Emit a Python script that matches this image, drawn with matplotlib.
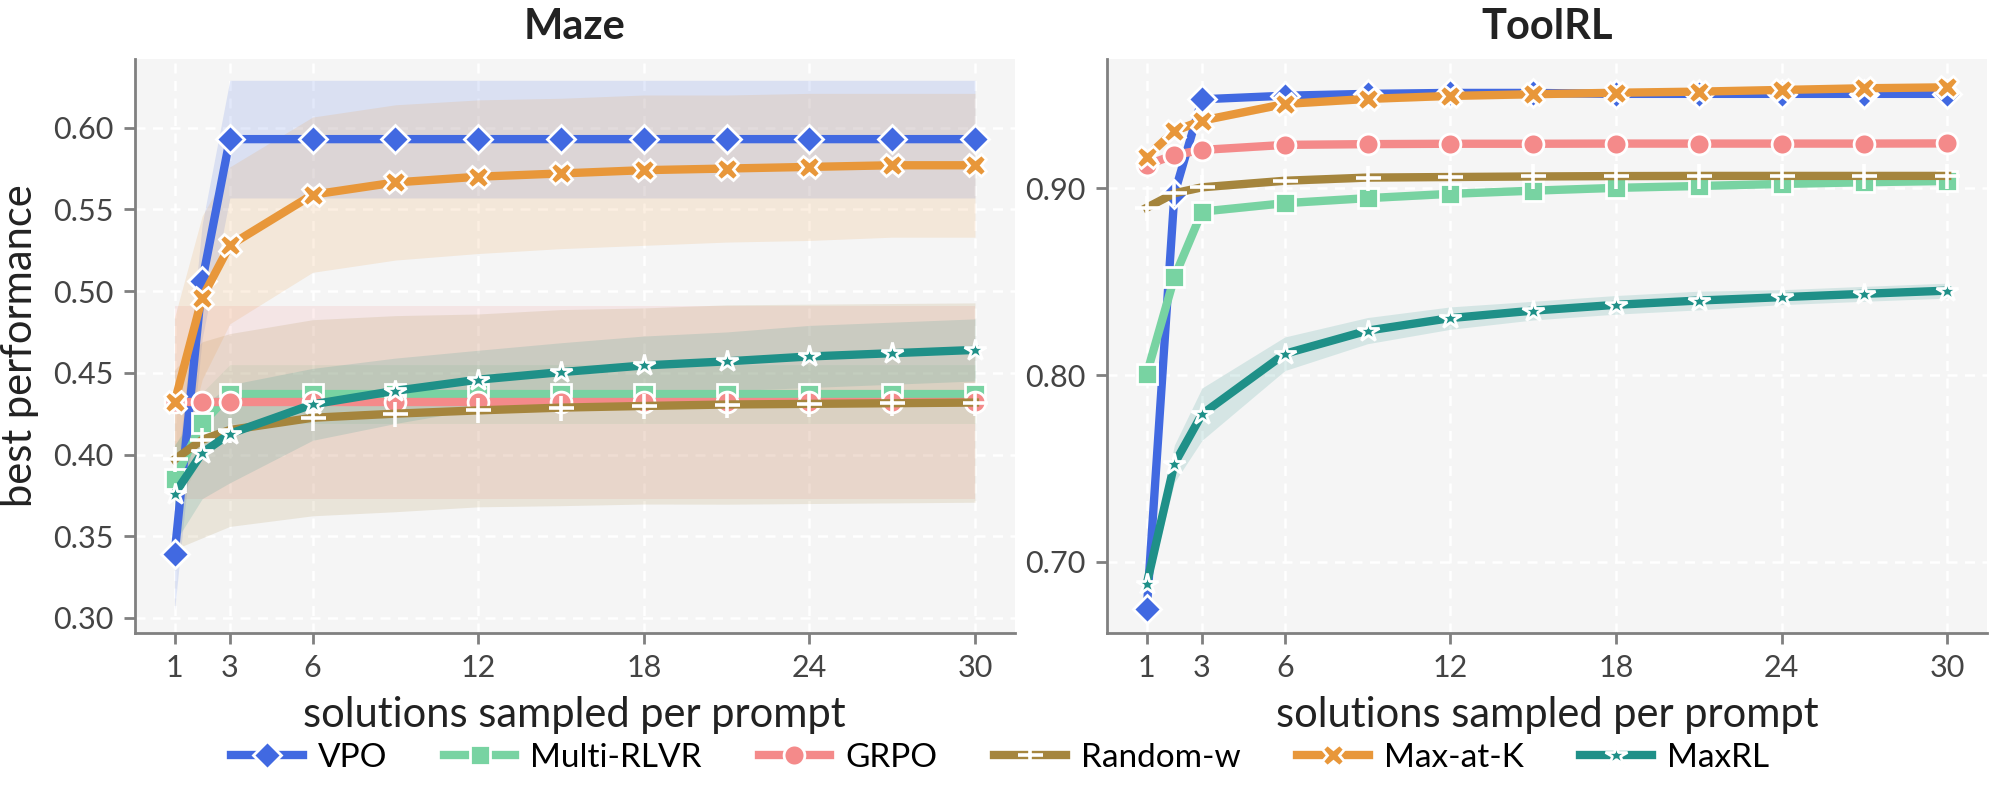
import numpy as np
import matplotlib
matplotlib.use("Agg")
import matplotlib.pyplot as plt

plt.rcParams['font.family'] = ['Lato', 'DejaVu Sans']

ks = [1, 2, 3, 6, 9, 12, 15, 18, 21, 24, 27, 30]
methods = ["VPO", "Multi-RLVR", "GRPO", "Random-w", "Max-at-K", "MaxRL"]
colors = ["#4169E1", "#78D3A2", "#F48A8A", "#A5853D", "#E8973A", "#1F9088"]
markers = ["D", "s", "o", "+", "X", "*"]
msizes = [7, 7, 7.5, 9, 8, 8]

# ---- Maze ----
maze_mean = {
    "VPO":        [0.339, 0.506, 0.593, 0.593, 0.593, 0.593, 0.593, 0.593, 0.593, 0.593, 0.593, 0.593],
    "Multi-RLVR": [0.385, 0.419, 0.437, 0.437, 0.437, 0.437, 0.437, 0.437, 0.437, 0.437, 0.437, 0.437],
    "GRPO":       [0.432, 0.432, 0.432, 0.432, 0.432, 0.432, 0.432, 0.432, 0.432, 0.432, 0.432, 0.432],
    "Random-w":   [0.397, 0.409, 0.415, 0.4225, 0.425, 0.427, 0.4287, 0.4297, 0.4306, 0.431, 0.4314, 0.4318],
    "Max-at-K":   [0.432, 0.496, 0.528, 0.559, 0.5665, 0.570, 0.572, 0.574, 0.575, 0.576, 0.577, 0.577],
    "MaxRL":      [0.376, 0.401, 0.4127, 0.4307, 0.439, 0.4458, 0.4504, 0.4545, 0.457, 0.460, 0.462, 0.464],
}
maze_std = {
    "VPO":        [0.034, 0.035, 0.036, 0.036, 0.036, 0.036, 0.036, 0.036, 0.036, 0.036, 0.036, 0.036],
    "Multi-RLVR": [0.020, 0.019, 0.018, 0.018, 0.018, 0.018, 0.018, 0.018, 0.018, 0.018, 0.018, 0.018],
    "GRPO":       [0.059, 0.059, 0.059, 0.059, 0.059, 0.059, 0.059, 0.059, 0.059, 0.059, 0.059, 0.059],
    "Random-w":   [0.055, 0.060, 0.059, 0.060, 0.060, 0.059, 0.060, 0.060, 0.061, 0.061, 0.061, 0.061],
    "Max-at-K":   [0.052, 0.050, 0.048, 0.0475, 0.0475, 0.047, 0.046, 0.046, 0.045, 0.045, 0.044, 0.044],
    "MaxRL":      [0.030, 0.028, 0.030, 0.022, 0.020, 0.018, 0.018, 0.018, 0.018, 0.019, 0.019, 0.019],
}

# ---- ToolRL ----
tool_mean = {
    "VPO":        [0.675, 0.897, 0.9476, 0.9495, 0.9505, 0.951, 0.951, 0.9505, 0.9505, 0.9505, 0.9505, 0.9505],
    "Multi-RLVR": [0.8007, 0.8524, 0.8875, 0.892, 0.8947, 0.897, 0.8987, 0.9002, 0.9012, 0.9023, 0.9032, 0.9039],
    "GRPO":       [0.9125, 0.9178, 0.9205, 0.9232, 0.9236, 0.9238, 0.9238, 0.9239, 0.9239, 0.9239, 0.9239, 0.924],
    "Random-w":   [0.8896, 0.8973, 0.9005, 0.904, 0.9057, 0.906, 0.9063, 0.9065, 0.9066, 0.9066, 0.9066, 0.9066],
    "Max-at-K":   [0.9169, 0.9306, 0.9362, 0.9451, 0.9478, 0.9494, 0.9503, 0.9511, 0.9517, 0.9526, 0.9535, 0.954],
    "MaxRL":      [0.6884, 0.7526, 0.7791, 0.8114, 0.8238, 0.8305, 0.8345, 0.8376, 0.8399, 0.8417, 0.8435, 0.8452],
}
tool_std = {
    "VPO":        [0.002, 0.002, 0.001, 0.001, 0.001, 0.001, 0.001, 0.001, 0.001, 0.001, 0.001, 0.001],
    "Multi-RLVR": [0.002, 0.002, 0.002, 0.002, 0.002, 0.002, 0.002, 0.002, 0.002, 0.002, 0.002, 0.002],
    "GRPO":       [0.002, 0.002, 0.002, 0.002, 0.002, 0.002, 0.002, 0.002, 0.002, 0.002, 0.002, 0.002],
    "Random-w":   [0.002, 0.002, 0.002, 0.002, 0.002, 0.002, 0.002, 0.002, 0.002, 0.002, 0.002, 0.002],
    "Max-at-K":   [0.002, 0.002, 0.002, 0.002, 0.002, 0.002, 0.002, 0.002, 0.002, 0.002, 0.002, 0.002],
    "MaxRL":      [0.005, 0.010, 0.014, 0.009, 0.007, 0.006, 0.005, 0.005, 0.005, 0.004, 0.004, 0.004],
}

xticks = [1, 3, 6, 12, 18, 24, 30]
maze_yticks = [0.30, 0.35, 0.40, 0.45, 0.50, 0.55, 0.60]
tool_yticks = [0.70, 0.80, 0.90]

fig = plt.figure(figsize=(10, 3.995), dpi=200)
ax1 = fig.add_axes([0.0673, 0.2078, 0.4402, 0.7187])
ax2 = fig.add_axes([0.5534, 0.2078, 0.4402, 0.7187])

def draw(ax, means, stds, title, yticks):
    ax.set_facecolor("#F5F5F5")
    ks_arr = np.array(ks)
    handles = []
    for m, c, mk, ms in zip(methods, colors, markers, msizes):
        mu = np.array(means[m]); sd = np.array(stds[m])
        ax.fill_between(ks_arr, mu - sd, mu + sd, color=c, alpha=0.15, lw=0)
        if mk == "+":
            h, = ax.plot(ks_arr, mu, color=c, lw=3.0, marker=mk, ms=ms,
                         mec="white", mew=1.3, zorder=3)
        else:
            h, = ax.plot(ks_arr, mu, color=c, lw=3.0, marker=mk, ms=ms,
                         mfc=c, mec="white", mew=1.0, zorder=3)
        handles.append(h)
    ax.set_xticks(xticks)
    ax.set_yticks(yticks)
    ax.set_yticklabels([f"{v:.2f}" for v in yticks])
    ax.grid(True, color="white", ls=(0, (4, 3)), lw=0.9)
    ax.set_axisbelow(True)
    for s in ["top", "right"]:
        ax.spines[s].set_visible(False)
    for s in ["left", "bottom"]:
        ax.spines[s].set_color("#808080")
        ax.spines[s].set_linewidth(1.0)
    ax.tick_params(colors="#808080", labelcolor="#444444", labelsize=11, length=4, width=1)
    ax.set_title(title, fontsize=15, fontweight="bold", color="#222222", pad=7)
    ax.set_xlabel("solutions sampled per prompt", fontsize=15, color="#222222", labelpad=5)
    ax.set_xlim(1 - 1.45, 30 + 1.45)
    return handles

handles = draw(ax1, maze_mean, maze_std, "Maze", maze_yticks)
ax1.set_ylim(0.2908, 0.6422)
ax1.set_ylabel("best performance", fontsize=15, color="#222222", labelpad=5)
draw(ax2, tool_mean, tool_std, "ToolRL", tool_yticks)
ax2.set_ylim(0.662, 0.9693)

fig.legend(handles, methods, loc="lower center", bbox_to_anchor=(0.5, -0.005), ncol=6,
           frameon=False, fontsize=12, handlelength=2.15, columnspacing=1.7, handletextpad=0.45)

fig.savefig("out.png", dpi=200)
